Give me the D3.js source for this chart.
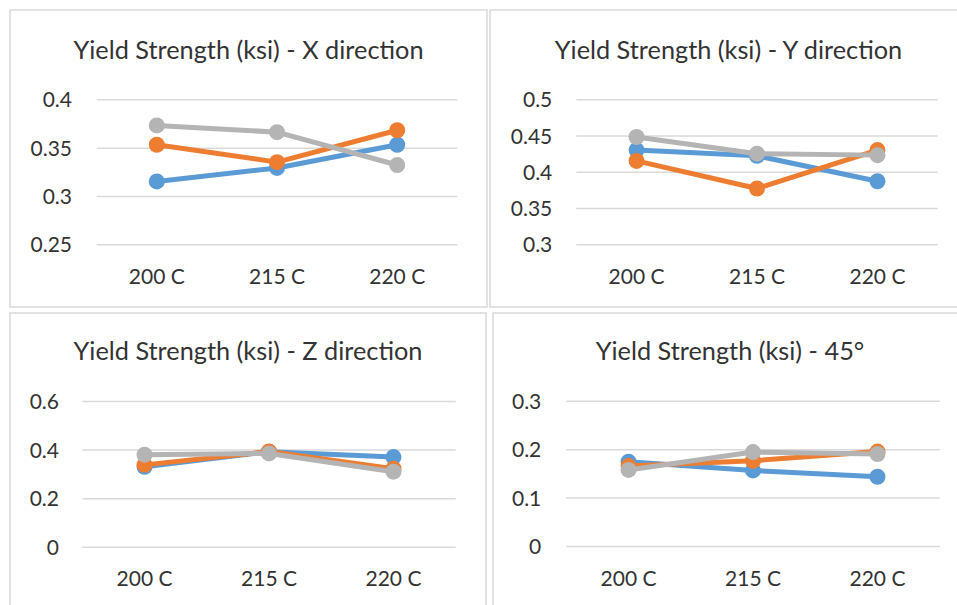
<!DOCTYPE html>
<html>
<head>
<meta charset="utf-8">
<script src="https://cdn.jsdelivr.net/npm/d3@7"></script>
<style>
  html, body { margin: 0; padding: 0; background: #ffffff; }
  svg { display: block; }
  text { font-family: Lato, "Open Sans", sans-serif; fill: #333333; }
</style>
</head>
<body>
<svg id="chart" width="957" height="605"></svg>
<script>
// Temperature categories shared by every panel
const categories = ["200 C", "215 C", "220 C"];

// Chart titles
const titles = [
  "Yield Strength (ksi) - X direction",
  "Yield Strength (ksi) - Y direction",
  "Yield Strength (ksi) - Z direction",
  "Yield Strength (ksi) - 45°"
];

// X direction
const xDirA = [0.315, 0.329, 0.353];
const xDirB = [0.353, 0.335, 0.368];
const xDirC = [0.373, 0.366, 0.332];
const xDirTicks = [0.25, 0.3, 0.35, 0.4];

// Y direction
const yDirA = [0.430, 0.422, 0.387];
const yDirB = [0.415, 0.377, 0.430];
const yDirC = [0.448, 0.425, 0.423];
const yDirTicks = [0.3, 0.35, 0.4, 0.45, 0.5];

// Z direction
const zDirA = [0.329, 0.391, 0.369];
const zDirB = [0.337, 0.392, 0.321];
const zDirC = [0.379, 0.384, 0.309];
const zDirTicks = [0, 0.2, 0.4, 0.6];

// 45 degree
const d45A = [0.174, 0.156, 0.143];
const d45B = [0.165, 0.176, 0.195];
const d45C = [0.157, 0.194, 0.190];
const d45Ticks = [0, 0.1, 0.2, 0.3];

const seriesColors = ["#5b9bd5", "#ed7d31", "#b4b4b4"];

// Panel geometry: frame box, plot box, title/label positions
const panels = [
  { title: titles[0], series: [xDirA, xDirB, xDirC], ticks: xDirTicks,
    frame: [10, 10, 487, 307], plot: [96.7, 99.3, 457.3, 244.3],
    titleY: 59, labelY: 284, tickRight: 72 },
  { title: titles[1], series: [yDirA, yDirB, yDirC], ticks: yDirTicks,
    frame: [490, 10, 967, 307], plot: [576.3, 99.3, 937.7, 244.3],
    titleY: 59, labelY: 284, tickRight: 552.3 },
  { title: titles[2], series: [zDirA, zDirB, zDirC], ticks: zDirTicks,
    frame: [10, 313, 486, 612], plot: [82.3, 401, 455.7, 546.7],
    titleY: 360, labelY: 586, tickRight: 59 },
  { title: titles[3], series: [d45A, d45B, d45C], ticks: d45Ticks,
    frame: [493, 313, 967, 612], plot: [566.3, 400.7, 939.7, 546],
    titleY: 360, labelY: 586, tickRight: 541.3 }
];

const svg = d3.select("#chart");

panels.forEach(p => {
  const [fx0, fy0, fx1, fy1] = p.frame;
  const [px0, py0, px1, py1] = p.plot;
  const g = svg.append("g");

  // chart frame
  g.append("rect")
    .attr("x", fx0).attr("y", fy0)
    .attr("width", fx1 - fx0).attr("height", fy1 - fy0)
    .attr("fill", "#ffffff")
    .attr("stroke", "#d9d9d9")
    .attr("stroke-width", 1.5);

  // title
  g.append("text")
    .attr("x", (fx0 + fx1) / 2)
    .attr("y", p.titleY)
    .attr("text-anchor", "middle")
    .style("font-size", "25.3px")
    .text(p.title);

  const x = d3.scaleBand().domain(categories).range([px0, px1]);
  const y = d3.scaleLinear()
    .domain([d3.min(p.ticks), d3.max(p.ticks)])
    .range([py1, py0]);

  // value axis with gridlines
  const yAxis = g.append("g")
    .attr("transform", `translate(${px0},0)`)
    .call(d3.axisLeft(y).tickValues(p.ticks).tickSize(-(px1 - px0)).tickPadding(0).tickFormat(d => String(d)));
  yAxis.select(".domain").remove();
  yAxis.selectAll(".tick line")
    .attr("stroke", "#d9d9d9")
    .attr("stroke-width", 1.5);
  yAxis.selectAll(".tick text")
    .attr("x", p.tickRight - px0)
    .attr("dy", "0.36em")
    .style("font-size", "21px")
    .style("font-family", "Lato, 'Open Sans', sans-serif")
    .attr("fill", "#333333");

  // category axis
  const xAxis = g.append("g")
    .attr("transform", `translate(0,${p.labelY})`)
    .call(d3.axisBottom(x).tickSize(0).tickPadding(0));
  xAxis.select(".domain").remove();
  xAxis.selectAll(".tick text")
    .attr("y", 0)
    .attr("dy", 0)
    .style("font-size", "21px")
    .style("font-family", "Lato, 'Open Sans', sans-serif")
    .attr("fill", "#333333");

  const cx = c => x(c) + x.bandwidth() / 2;
  const line = d3.line()
    .x((d, i) => cx(categories[i]))
    .y(d => y(d));

  // series: line then markers, drawn in order
  p.series.forEach((vals, si) => {
    const sg = g.append("g");
    sg.append("path")
      .datum(vals)
      .attr("d", line)
      .attr("fill", "none")
      .attr("stroke", seriesColors[si])
      .attr("stroke-width", 5)
      .attr("stroke-linejoin", "round");
    sg.selectAll("circle")
      .data(vals)
      .join("circle")
      .attr("cx", (d, i) => cx(categories[i]))
      .attr("cy", d => y(d))
      .attr("r", 8)
      .attr("fill", seriesColors[si]);
  });
});
</script>
</body>
</html>
